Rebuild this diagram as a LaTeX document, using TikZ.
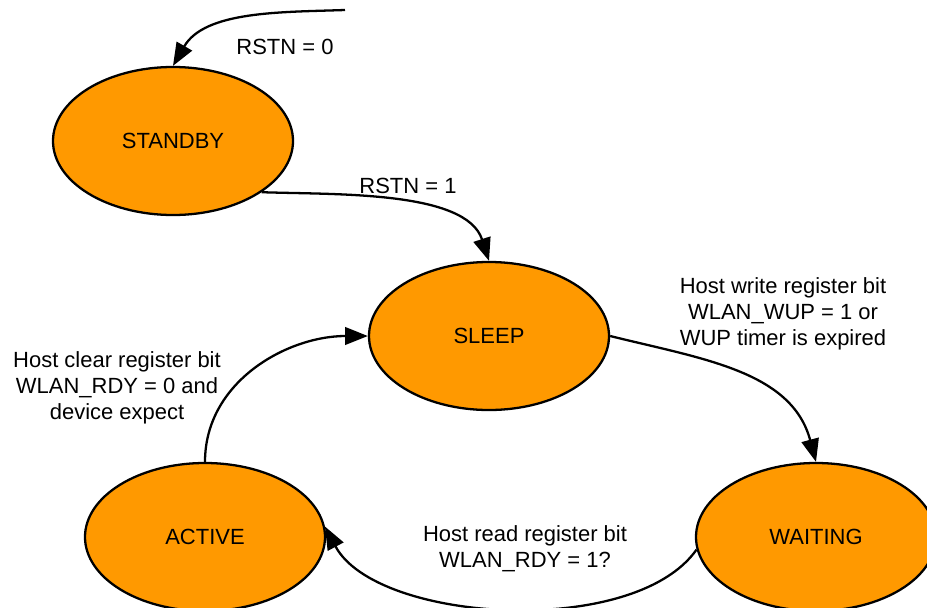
\documentclass[tikz,border=0pt]{standalone}
\usepackage{fontspec}
\setmainfont{Liberation Sans}
\usetikzlibrary{shapes.geometric,arrows.meta}
\definecolor{stateorange}{HTML}{FF9900}
\tikzset{state/.style = {ellipse, draw=black, line width=1.3pt, fill=stateorange,
    minimum width=4.8cm, minimum height=2.96cm, inner sep=0pt},
  trans/.style = {->, line width=1.3pt},
  lbl/.style = {align=center, inner sep=0pt}}

\begin{document}
\begin{tikzpicture}[>={Triangle[length=13pt,width=10pt]},
    every node/.style={font=\fontsize{12.5pt}{14.8pt}\selectfont}]
    \useasboundingbox (0,0) rectangle (18.54,12.14);

    \node[state] (standby) at (3.46,9.32) {STANDBY};
    \node[state] (sleep) at (9.78,5.42) {SLEEP};
    \node[state] (active) at (4.10,1.40) {ACTIVE};
    \node[state] (waiting) at (16.32,1.40) {WAITING};

    \coordinate (reset) at (6.9,11.94);

    \draw[trans] (reset) to[out=182,in=60,looseness=0.9] (standby.north);
    \draw[trans] (standby.-30) to[out=-2,in=108,looseness=0.8] (sleep.north);
    \draw[trans] (sleep.east) to[out=-14,in=105] (waiting.north);
    \draw[trans] (active.north) to[out=90,in=180] (sleep.west);
    \draw[trans] (waiting.186) to[out=235,in=-62,looseness=0.75] (active.5);

        \node[lbl] (rst0) at (5.70,11.20) {RSTN = 0};
        \node[lbl] (rst1) at (8.16,8.42) {RSTN = 1};
        \node[lbl] (wup) at (15.66,5.86) {Host write register bit\\WLAN\_WUP = 1 or\\WUP timer is expired};
        \node[lbl] (clr) at (2.34,4.38) {Host clear register bit\\WLAN\_RDY = 0 and\\device expect};
        \node[lbl] (rdy) at (10.50,1.16) {Host read register bit\\WLAN\_RDY = 1?};
\end{tikzpicture}
\end{document}
